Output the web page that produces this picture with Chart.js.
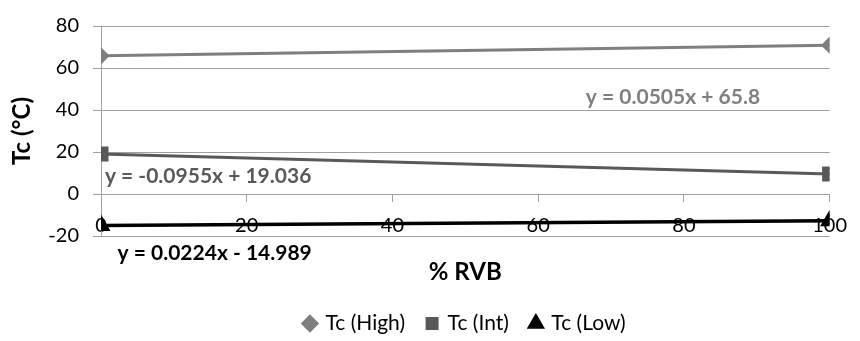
<!DOCTYPE html>
<html>
<head>
<meta charset="UTF-8">
<title>Tc vs % RVB</title>
<script src="https://cdn.jsdelivr.net/npm/chart.js"></script>
<style>
  html, body { margin: 0; padding: 0; background: #fff; }
  #wrap { width: 860px; height: 341px; }
</style>
</head>
<body>
<div id="wrap"><canvas id="c"></canvas></div>
<script>
const rvb = [0, 100];
const tcHigh = [65.8, 70.85];
const tcInt = [19.04, 9.49];
const tcLow = [-14.99, -12.75];
const seriesNames = ['Tc (High)', 'Tc (Int)', 'Tc (Low)'];
const xTicks = [0, 20, 40, 60, 80, 100];
const yTicks = [-20, 0, 20, 40, 60, 80];
const equations = ['y = 0.0505x + 65.8', 'y = -0.0955x + 19.036', 'y = 0.0224x - 14.989'];

const FONT = 'Lato';
const GRID = '#a0a0a0';
const colors = ['#7f7f7f', '#595959', '#000000'];

// where each trendline equation sits, in data units
const eqAt = [[78.5, 46.3], [14.7, 8.4], [15.6, -28.3]];

function pts(ys) {
  return rvb.map((x, i) => ({ x: x, y: ys[i] }));
}

const eqPlugin = {
  id: 'equations',
  afterDraw(chart) {
    const ctx = chart.ctx;
    const xs = chart.scales.x, ys = chart.scales.y;
    ctx.save();
    ctx.font = 'bold 21px ' + FONT;
    ctx.textAlign = 'center';
    ctx.textBaseline = 'middle';
    equations.forEach((t, i) => {
      ctx.fillStyle = colors[i];
      ctx.fillText(t, xs.getPixelForValue(eqAt[i][0]), ys.getPixelForValue(eqAt[i][1]));
    });
    ctx.restore();
  }
};

const ctx = document.getElementById('c').getContext('2d');
new Chart(ctx, {
  type: 'line',
  data: {
    datasets: [
      { label: seriesNames[0], data: pts(tcHigh), borderColor: colors[0], backgroundColor: colors[0],
        borderWidth: 3, pointStyle: 'rectRot', pointRadius: 6.5 },
      { label: seriesNames[1], data: pts(tcInt), borderColor: colors[1], backgroundColor: colors[1],
        borderWidth: 3, pointStyle: 'rect', pointRadius: 8.5 },
      { label: seriesNames[2], data: pts(tcLow), borderColor: colors[2], backgroundColor: colors[2],
        borderWidth: 3.5, pointStyle: 'triangle', pointRadius: 7.5 }
    ]
  },
  options: {
    responsive: true,
    maintainAspectRatio: false,
    animation: false,
    layout: { padding: { left: 0, right: 24, top: 14, bottom: -3 } },
    plugins: {
      tooltip: { enabled: false },
      legend: {
        position: 'bottom',
        fullSize: false,
        title: { display: true, text: '', font: { size: 10 }, padding: { top: 43, bottom: 0 } },
        labels: {
          usePointStyle: true,
          boxWidth: 10,
          boxHeight: 10,
          padding: 22,
          color: '#000',
          font: { family: FONT, size: 21 }
        }
      }
    },
    scales: {
      x: {
        type: 'linear',
        position: { y: 0 },
        min: 0,
        max: 100,
        afterBuildTicks: s => { s.ticks = xTicks.map(v => ({ value: v })); },
        grid: { drawOnChartArea: false, drawTicks: true, tickLength: 7, color: GRID },
        border: { color: GRID, width: 1 },
        ticks: { padding: 13, color: '#000', font: { family: FONT, size: 20 }, maxRotation: 0 },
        title: { display: true, text: '% RVB', color: '#000', font: { family: FONT, size: 24, weight: 'bold' },
                 padding: { top: 7, bottom: 0 } }
      },
      y: {
        min: -20,
        max: 80,
        afterBuildTicks: s => { s.ticks = yTicks.map(v => ({ value: v })); },
        afterFit: s => { s.width = 101; },
        grid: { color: GRID, tickLength: 8 },
        border: { color: GRID, width: 1 },
        ticks: { padding: 14, color: '#000', font: { family: FONT, size: 20 } },
        title: { display: true, text: 'Tc (°C)', color: '#000', font: { family: FONT, size: 24, weight: 'bold' },
                 padding: { top: 8, bottom: 0 } }
      }
    }
  },
  plugins: [eqPlugin]
});
</script>
</body>
</html>
